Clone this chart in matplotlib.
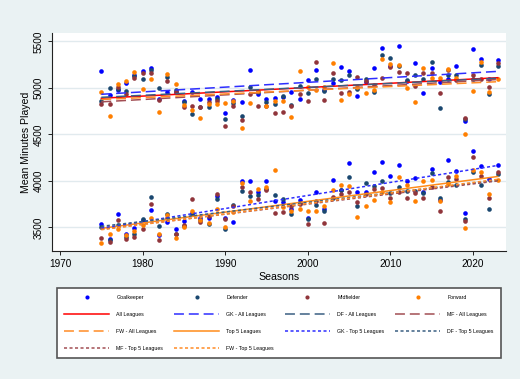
import numpy as np
import matplotlib
matplotlib.use("Agg")
import matplotlib.pyplot as plt
from matplotlib.lines import Line2D

plt.rcParams['font.family'] = ['Liberation Sans', 'DejaVu Sans']

years = list(range(1975, 2024))

# All Leagues
gk_all = [5180, 4920, 4980, 5050, 5140, 5180, 5210, 4880, 4950, 4960,
          4860, 4950, 4880, 4880, 4900, 4730, 4870, 4850, 5195, 4930,
          4880, 4890, 4900, 4950, 4880, 5085, 5195, 4980, 5050, 5225,
          5180, 4915, 5060, 5210, 5430, 5230, 5450, 5070, 5270, 4945,
          5210, 5060, 5100, 5230, 4645, 5415, 5305, 5090, 5300]
df_all = [4860, 5000, 4990, 4970, 5130, 5090, 5190, 4995, 5115, 4975,
          4850, 4720, 4790, 4790, 4880, 4665, 4840, 4700, 5005, 4950,
          4850, 4830, 4915, 4815, 5025, 4940, 5100, 4965, 5100, 5085,
          5140, 4990, 5090, 4960, 5355, 5325, 5230, 5080, 5135, 5090,
          5280, 4785, 5140, 5135, 4660, 5100, 5245, 4935, 5240]
mf_all = [4830, 4830, 5010, 4930, 5110, 5165, 5160, 4865, 5070, 4955,
          4795, 4800, 4790, 4850, 4860, 4590, 4810, 4655, 4930, 4800,
          4800, 4730, 4745, 4805, 4935, 4860, 5280, 4865, 5165, 4940,
          4960, 5120, 5070, 5030, 5105, 5225, 5175, 5160, 5015, 5165,
          5165, 4940, 5190, 5085, 4680, 5135, 5090, 5005, 5270]
fw_all = [4950, 4700, 5045, 5075, 5175, 4990, 5095, 4735, 5150, 5040,
          4815, 4760, 4680, 4830, 4830, 4840, 4860, 4565, 4840, 4970,
          4810, 4860, 4860, 4685, 5185, 5010, 4975, 5010, 5270, 4870,
          4930, 5010, 4940, 4980, 5315, 5260, 5250, 4995, 4850, 5210,
          5105, 5105, 5200, 5110, 4500, 4970, 5280, 4960, 5095]

# Top 5 Leagues
gk_top5 = [3540, 3375, 3645, 3430, 3495, 3580, 3685, 3420, 3560, 3485,
           3565, 3650, 3600, 3600, 3840, 3605, 3555, 4000, 4000, 3885,
           4000, 3780, 3770, 3700, 3790, 3605, 3880, 3700, 4005, 3900,
           4195, 3875, 3880, 4095, 4205, 4055, 4175, 4000, 4025, 3880,
           4125, 3790, 4220, 4105, 3655, 4320, 4155, 4020, 4165]
df_top5 = [3500, 3360, 3520, 3400, 3430, 3590, 3825, 3515, 3640, 3430,
           3510, 3640, 3580, 3540, 3800, 3485, 3740, 3890, 3835, 3850,
           3910, 3850, 3800, 3640, 3760, 3590, 3735, 3680, 3810, 3900,
           4040, 3725, 3975, 3940, 4000, 3870, 3935, 3890, 3890, 3870,
           4080, 3815, 3990, 3950, 3590, 4095, 3950, 3695, 4075]
mf_top5 = [3385, 3340, 3575, 3375, 3400, 3480, 3750, 3360, 3605, 3425,
           3520, 3800, 3555, 3620, 3855, 3590, 3730, 3935, 3875, 3805,
           3900, 3650, 3660, 3725, 3750, 3535, 3780, 3545, 3825, 3860,
           3875, 3775, 3860, 3910, 3925, 3810, 3880, 3815, 3870, 3820,
           3935, 3670, 4040, 4015, 3565, 4260, 4055, 3810, 4090]
fw_top5 = [3330, 3425, 3485, 3420, 3460, 3520, 3605, 3425, 3630, 3390,
           3500, 3680, 3575, 3545, 3700, 3500, 3665, 3975, 3785, 3915,
           3935, 4115, 3720, 3675, 3695, 3680, 3680, 3730, 3900, 3950,
           3945, 3615, 3730, 3795, 3880, 3775, 4040, 3950, 3780, 4000,
           4005, 3780, 3970, 4055, 3495, 4120, 4100, 3855, 4005]

positions = ['Goalkeeper', 'Defender', 'Midfielder', 'Forward']
abbr = ['GK', 'DF', 'MF', 'FW']
all_series = [gk_all, df_all, mf_all, fw_all]
top_series = [gk_top5, df_top5, mf_top5, fw_top5]

c_gk = '#0000ff'
c_df = '#1a476f'
c_mf = '#90353b'
c_fw = '#ff7f00'
pos_colors = [c_gk, c_df, c_mf, c_fw]
line_colors = ['#2e2eff', '#3a5f82', '#a24e54', '#ff8c26']

bg = '#eaf2f3'
fig = plt.figure(figsize=(5.2, 3.79), dpi=100, facecolor=bg)
ax = fig.add_axes([52/520, 1-251/379, (506-52)/520, (251-33)/379])
ax.set_facecolor('white')

yrs = np.array(years, dtype=float)

handles = []
for name, col, a, t in zip(positions, pos_colors, all_series, top_series):
    xs = np.concatenate([yrs, yrs])
    ys = np.concatenate([np.array(a, float), np.array(t, float)])
    ax.scatter(xs, ys, s=11, color=col, linewidths=0, zorder=3)
    handles.append(Line2D([], [], linestyle='none', marker='o', markersize=3.0,
                          color=col, markeredgewidth=0, label=name))

def fit_line(x, y, **kw):
    b, a0 = np.polyfit(x, y, 1)
    xx = np.array([x.min(), x.max()])
    return ax.plot(xx, a0 + b * xx, zorder=4, **kw)[0]

lw = 1.1
dash = (6.5, 3.2)
dot = (2.0, 1.6)

all_x = np.concatenate([yrs] * 4)
all_y = np.concatenate([np.array(s, float) for s in all_series])
handles.append(fit_line(all_x, all_y, color='#ff0000', lw=lw, label='All Leagues'))
for ab, col, s in zip(abbr, line_colors, all_series):
    handles.append(fit_line(yrs, np.array(s, float), color=col, lw=lw, dashes=dash,
                            label=f'{ab} - All Leagues'))
top_y = np.concatenate([np.array(s, float) for s in top_series])
handles.append(fit_line(all_x, top_y, color='#ff8c1a', lw=lw, label='Top 5 Leagues'))
for ab, col, s in zip(abbr, line_colors, top_series):
    handles.append(fit_line(yrs, np.array(s, float), color=col, lw=lw, dashes=dot,
                            label=f'{ab} - Top 5 Leagues'))

ax.set_xlim(1969.03, 2024.0)
ax.set_ylim(3245, 5590)
ax.set_xticks([1970, 1980, 1990, 2000, 2010, 2020])
ax.set_yticks([3500, 4000, 4500, 5000, 5500])
ax.grid(axis='y', color='#e1eaee', lw=1.0, zorder=0)
ax.set_axisbelow(True)
for sp in ['top', 'right']:
    ax.spines[sp].set_visible(False)
for sp in ['left', 'bottom']:
    ax.spines[sp].set_color('#222222')
    ax.spines[sp].set_linewidth(0.8)
ax.tick_params(axis='both', length=3, width=0.7, color='#222222', labelsize=7.2, pad=3)
plt.setp(ax.get_yticklabels(), rotation=90, va='center')
ax.set_xlabel('Seasons', fontsize=7.6, labelpad=2)
ax.set_ylabel('Mean Minutes Played', fontsize=7.6, labelpad=2)

order = [0, 4, 8, 12, 1, 5, 9, 13, 2, 6, 10, 3, 7, 11]
hh = [handles[i] for i in order]
leg = fig.legend(handles=hh, labels=[h.get_label() for h in hh], ncol=4,
                 loc='upper left', mode='expand',
                 bbox_to_anchor=(57/520, 1-288/379, 444/520, 0.001),
                 borderaxespad=0, fontsize=3.8, handlelength=8.5,
                 handletextpad=1.4, labelspacing=2.3, borderpad=1.35,
                 frameon=True, fancybox=False, edgecolor='#555555',
                 facecolor='white', framealpha=1)
leg.get_frame().set_linewidth(1.2)

fig.savefig('out.png', dpi=100, facecolor=bg)
